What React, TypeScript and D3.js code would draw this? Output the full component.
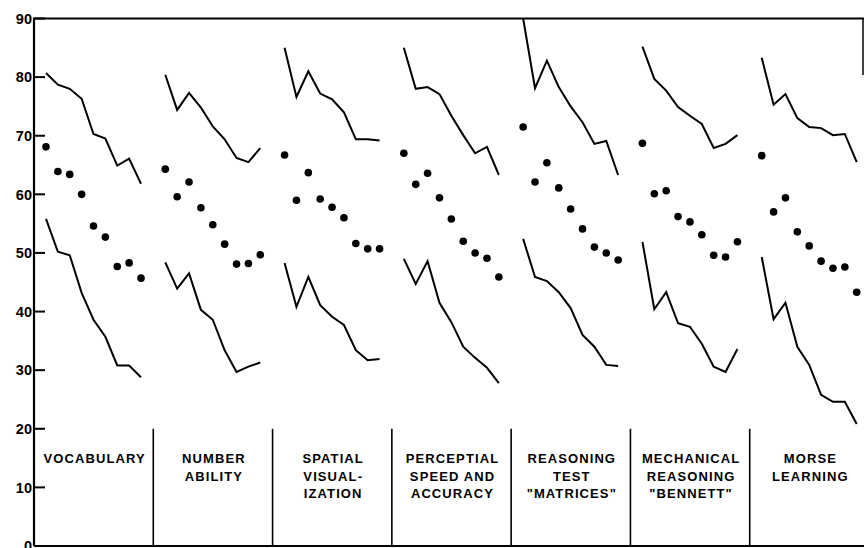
import React from "react";
import * as d3 from "d3";

const categories = [
  "VOCABULARY",
  "NUMBER ABILITY",
  "SPATIAL VISUALIZATION",
  "PERCEPTUAL SPEED AND ACCURACY",
  "REASONING TEST MATRICES",
  "MECHANICAL REASONING BENNETT",
  "MORSE LEARNING",
];

const labelLines = [
  ["VOCABULARY"],
  ["NUMBER", "ABILITY"],
  ["SPATIAL", "VISUAL-", "IZATION"],
  ["PERCEPTIAL", "SPEED AND", "ACCURACY"],
  ["REASONING", "TEST", "\"MATRICES\""],
  ["MECHANICAL", "REASONING", "\"BENNETT\""],
  ["MORSE", "LEARNING"],
];

const levels = [1, 2, 3, 4, 5, 6, 7, 8, 9];

const meanValues = [
  [68.1, 63.9, 63.4, 60.0, 54.6, 52.7, 47.7, 48.3, 45.7],
  [64.3, 59.6, 62.1, 57.7, 54.8, 51.5, 48.1, 48.2, 49.7],
  [66.7, 59.0, 63.7, 59.2, 57.8, 56.0, 51.6, 50.7, 50.7],
  [67.0, 61.7, 63.6, 59.4, 55.8, 52.0, 50.0, 49.1, 45.9],
  [71.5, 62.1, 65.4, 61.1, 57.5, 54.1, 51.0, 50.0, 48.8],
  [68.7, 60.1, 60.6, 56.2, 55.3, 53.1, 49.6, 49.3, 51.9],
  [66.6, 57.0, 59.4, 53.6, 51.2, 48.6, 47.4, 47.6, 43.3],
];

const upperValues = [
  [80.7, 78.7, 78.0, 76.3, 70.3, 69.5, 64.9, 66.1, 61.8],
  [80.4, 74.4, 77.3, 74.8, 71.6, 69.4, 66.2, 65.5, 67.9],
  [85.0, 76.6, 81.0, 77.2, 76.2, 74.0, 69.4, 69.4, 69.2],
  [85.0, 78.0, 78.3, 77.1, 73.4, 70.1, 67.0, 68.1, 63.3],
  [90.0, 78.1, 82.8, 78.3, 75.0, 72.3, 68.6, 69.1, 63.3],
  [85.2, 79.7, 77.7, 74.9, 73.4, 72.0, 67.9, 68.6, 70.1],
  [83.3, 75.3, 77.1, 73.0, 71.5, 71.3, 70.1, 70.3, 65.5],
];

const lowerValues = [
  [55.8, 50.2, 49.6, 43.2, 38.6, 35.7, 30.8, 30.8, 28.8],
  [48.4, 43.9, 46.5, 40.3, 38.6, 33.4, 29.7, 30.6, 31.3],
  [48.3, 40.8, 45.9, 41.1, 39.1, 37.7, 33.4, 31.7, 31.9],
  [49.0, 44.7, 48.6, 41.5, 38.2, 34.0, 32.1, 30.4, 27.8],
  [52.4, 45.9, 45.2, 43.3, 40.6, 36.0, 34.0, 30.9, 30.7],
  [51.9, 40.4, 43.3, 38.0, 37.4, 34.5, 30.6, 29.7, 33.6],
  [49.3, 38.7, 41.5, 34.0, 30.9, 25.8, 24.6, 24.6, 20.8],
];

const yTicks = [0, 10, 20, 30, 40, 50, 60, 70, 80, 90];
const dividerTop = 20;

const W = 864;
const H = 548;
const left = 34;
const top = 18.5;
const bottom = 546;

export default function App() {
  const y = d3.scaleLinear().domain([0, 90]).range([bottom, top]);
  const band = d3.scaleBand<string>().domain(categories).range([left, 869]).padding(0);
  const inner = d3.scalePoint<number>().domain(levels).range([12, 107]);
  const px = (ci: number, li: number) =>
    (band(categories[ci]) as number) + (inner(levels[li]) as number);
  const line = (ci: number) =>
    d3
      .line<number>()
      .x((_, i) => px(ci, i))
      .y((d) => y(d));

  const font = "'Liberation Sans', Arial, sans-serif";

  return (
    <svg
      width={W}
      height={H}
      style={{ position: "absolute", left: 0, top: 0, background: "#fff" }}
    >
      <rect x={0} y={0} width={W} height={H} fill="#fff" />
      {/* frame */}
      <line x1={left} y1={top} x2={left} y2={bottom} stroke="#000" strokeWidth={2.2} />
      <line x1={left - 1} y1={top} x2={W} y2={top} stroke="#000" strokeWidth={2.2} />
      <line x1={left} y1={bottom} x2={W} y2={bottom} stroke="#000" strokeWidth={2} />
      <line x1={863} y1={top} x2={863} y2={75} stroke="#000" strokeWidth={1.5} />
      {/* y ticks */}
      {yTicks.map((t) => (
        <g key={t}>
          <line x1={left} x2={left + 11} y1={y(t)} y2={y(t)} stroke="#000" strokeWidth={2} />
          <text
            x={left - 2}
            y={y(t)}
            dy="0.36em"
            textAnchor="end"
            fontFamily={font}
            fontWeight="bold"
            fontSize={14.5}
          >
            {t}
          </text>
        </g>
      ))}
      {/* dividers */}
      {categories.slice(1).map((c) => (
        <line
          key={c}
          x1={band(c) as number}
          x2={band(c) as number}
          y1={y(dividerTop)}
          y2={bottom}
          stroke="#000"
          strokeWidth={1.6}
        />
      ))}
      {/* labels */}
      {categories.map((c, ci) => {
        const cx = (band(c) as number) + band.bandwidth() / 2 + 1;
        return (
          <text
            key={c}
            x={cx}
            y={463}
            textAnchor="middle"
            fontFamily={font}
            fontWeight="bold"
            fontSize={13}
            letterSpacing={1.1}
          >
            {labelLines[ci].map((l, k) => (
              <tspan key={k} x={cx} dy={k === 0 ? 0 : 17.5}>
                {l}
              </tspan>
            ))}
          </text>
        );
      })}
      {/* data */}
      {categories.map((c, ci) => (
        <g key={c}>
          <path d={line(ci)(upperValues[ci]) || ""} fill="none" stroke="#000" strokeWidth={2} />
          <path d={line(ci)(lowerValues[ci]) || ""} fill="none" stroke="#000" strokeWidth={2} />
          {meanValues[ci].map((v, i) => (
            <circle key={i} cx={px(ci, i)} cy={y(v)} r={3.8} fill="#000" />
          ))}
        </g>
      ))}
    </svg>
  );
}
